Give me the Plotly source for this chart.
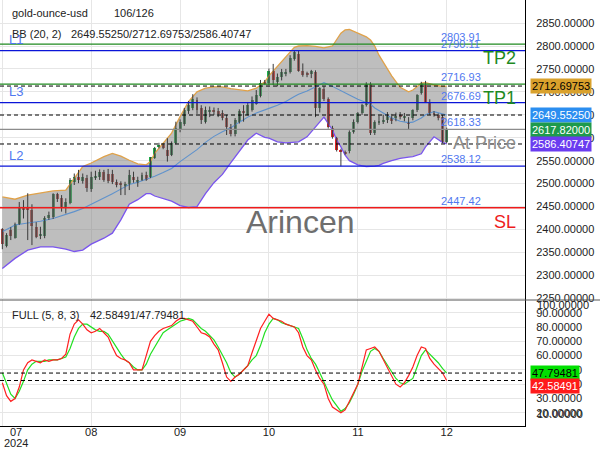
import numpy as np
import plotly.graph_objects as go
from plotly.subplots import make_subplots

FONT = "Liberation Sans, Arial, sans-serif"

# ---------------- data ----------------
symbol = "gold-ounce-usd"
bar_counter = "106/126"
month_tick_bars = [0, 21, 42, 63, 84, 105]
month_labels = ["07", "08", "09", "10", "11", "12"]
year_label = "2024"
price_ticks = [2250, 2300, 2350, 2400, 2450, 2500, 2550, 2600, 2650, 2700, 2750, 2800, 2850]
stoch_ticks = [20, 30, 40, 50, 60, 70, 80, 90]
stoch_edge_labels = [100, 10]

opens = [2401, 2364, 2399, 2381, 2411, 2448, 2446, 2442, 2406, 2386,
         2385, 2427, 2427, 2477, 2468, 2450, 2457, 2504, 2515, 2506,
         2513, 2488, 2513, 2515, 2526, 2522, 2521, 2504, 2499, 2495,
         2499, 2514, 2501, 2508, 2519, 2514, 2555, 2580, 2584, 2573,
         2562, 2588, 2617, 2630, 2658, 2665, 2682, 2664, 2635, 2658,
         2660, 2659, 2653, 2642, 2624, 2608, 2634, 2657, 2650, 2660,
         2674, 2691, 2722, 2719, 2746, 2722, 2733, 2739, 2744, 2772,
         2782, 2745, 2739, 2738, 2744, 2664, 2706, 2684, 2622, 2599,
         2573, 2570, 2571, 2613, 2635, 2653, 2671, 2717, 2611, 2633,
         2636, 2639, 2643, 2645, 2650, 2642, 2635, 2642, 2660, 2697,
         2715, 2679, 2653, 2650, 2646, 2591]
highs = [2403, 2392, 2405, 2415, 2460, 2464, 2479, 2455, 2416, 2406,
         2429, 2439, 2479, 2480, 2475, 2468, 2512, 2522, 2530, 2522,
         2519, 2526, 2528, 2531, 2530, 2532, 2530, 2509, 2505, 2504,
         2530, 2526, 2515, 2524, 2526, 2558, 2580, 2589, 2588, 2599,
         2592, 2635, 2640, 2665, 2680, 2695, 2688, 2671, 2668, 2668,
         2666, 2665, 2660, 2650, 2630, 2643, 2662, 2671, 2678, 2690,
         2704, 2726, 2726, 2751, 2761, 2740, 2750, 2750, 2780, 2790,
         2791, 2762, 2744, 2748, 2747, 2710, 2712, 2688, 2626, 2602,
         2576, 2572, 2616, 2640, 2656, 2674, 2721, 2721, 2638, 2648,
         2650, 2656, 2652, 2655, 2656, 2654, 2645, 2662, 2695, 2722,
         2724, 2684, 2658, 2653, 2650, 2622]
lows = [2357, 2361, 2377, 2380, 2410, 2424, 2377, 2366, 2381, 2379,
        2381, 2421, 2423, 2460, 2439, 2435, 2455, 2497, 2501, 2500,
        2482, 2482, 2508, 2508, 2504, 2501, 2499, 2492, 2475, 2475,
        2486, 2502, 2493, 2506, 2506, 2512, 2554, 2577, 2575, 2548,
        2560, 2586, 2612, 2626, 2652, 2660, 2652, 2630, 2631, 2645,
        2650, 2645, 2638, 2606, 2603, 2603, 2631, 2635, 2649, 2657,
        2672, 2688, 2716, 2715, 2715, 2712, 2725, 2734, 2740, 2768,
        2744, 2733, 2732, 2730, 2645, 2655, 2680, 2620, 2598, 2570,
        2538, 2563, 2566, 2609, 2631, 2650, 2668, 2606, 2606, 2628,
        2630, 2632, 2630, 2636, 2640, 2636, 2617, 2638, 2656, 2694,
        2676, 2650, 2646, 2638, 2588, 2588]
closes = [2368, 2388, 2385, 2411, 2448, 2443, 2444, 2408, 2384, 2388,
          2424, 2431, 2477, 2466, 2450, 2459, 2508, 2515, 2508, 2514,
          2490, 2515, 2516, 2526, 2509, 2506, 2504, 2498, 2497, 2497,
          2519, 2508, 2508, 2519, 2509, 2557, 2577, 2583, 2577, 2560,
          2588, 2621, 2635, 2660, 2672, 2685, 2660, 2639, 2660, 2661,
          2658, 2652, 2642, 2623, 2608, 2639, 2659, 2654, 2671, 2682,
          2693, 2720, 2719, 2746, 2725, 2733, 2744, 2744, 2773, 2786,
          2745, 2737, 2738, 2745, 2664, 2708, 2684, 2624, 2602, 2573,
          2570, 2566, 2613, 2635, 2653, 2671, 2717, 2611, 2635, 2637,
          2638, 2647, 2637, 2647, 2645, 2647, 2632, 2660, 2693, 2719,
          2679, 2653, 2651, 2642, 2591, 2617.82]

# Bollinger bands (20, 2) at these bars
bb_x = [0, 3, 6, 9, 12, 15, 17, 19, 21, 24, 26, 28, 30, 32, 34, 35, 36, 38, 40, 42,
        44, 46, 48, 50, 52, 54, 56, 58, 60, 62, 63, 65, 67, 69, 70, 72, 74, 76, 78, 79,
        80, 81, 82, 84, 86, 87, 88, 89, 90, 92, 94, 96, 97, 99, 100, 102, 104, 105]
bb_upper = [2471, 2466, 2475, 2480, 2484, 2486, 2512, 2537, 2545, 2559, 2566, 2560, 2551, 2543,
            2541, 2548, 2566, 2588, 2610, 2646, 2679, 2700, 2708, 2711, 2711, 2707, 2704, 2702,
            2708, 2722, 2735, 2755, 2777, 2797, 2800, 2801, 2799, 2796, 2800, 2815, 2828, 2835,
            2836, 2828, 2820, 2813, 2800, 2780, 2765, 2735, 2710, 2700, 2704, 2719, 2720, 2715,
            2712, 2712.69753]
bb_mid = [2395, 2410, 2414, 2418, 2424, 2432, 2439, 2446, 2455, 2468, 2478, 2488, 2498, 2503,
          2509, 2512, 2516, 2524, 2533, 2548, 2561, 2574, 2590, 2603, 2613, 2622, 2634, 2645,
          2654, 2660, 2664, 2671, 2679, 2690, 2695, 2702, 2711, 2720, 2712, 2707, 2703, 2698,
          2693, 2684, 2677, 2673, 2665, 2659, 2654, 2643, 2636, 2633, 2634, 2643, 2650, 2657,
          2652, 2649.55250]
bb_lower = [2315, 2337, 2355, 2362, 2362, 2357, 2352, 2355, 2368, 2381, 2392, 2421, 2455, 2465,
            2478, 2478, 2473, 2468, 2462, 2452, 2448, 2450, 2478, 2502, 2520, 2546, 2570, 2595,
            2610, 2601, 2599, 2591, 2589, 2590, 2591, 2602, 2623, 2645, 2617, 2595, 2580, 2562,
            2550, 2541, 2537, 2537, 2538, 2540, 2544, 2550, 2555, 2558, 2559, 2565, 2580, 2602,
            2590, 2586.40747]

# Full stochastic (5, 8, 3)
stoch_k = [41, 32, 28, 30, 38, 50, 55, 57, 56, 55,
           57, 56, 57, 57, 58, 61, 75, 82, 85, 82,
           78, 76, 77, 79, 76, 73, 66, 60, 58, 57,
           55, 50, 50, 50, 60, 70, 74, 77, 79, 80,
           81, 84, 86, 86, 85, 84, 80, 76, 75, 73,
           68, 64, 55, 45, 42, 45, 47, 50, 53, 62,
           70, 79, 84, 89, 86, 85, 84, 82, 81, 80,
           76, 66, 60, 57, 50, 44, 40, 30, 24, 22,
           20, 22, 28, 34, 40, 52, 64, 65, 66, 63,
           57, 52, 45, 40, 38, 41, 46, 52, 60, 66,
           65, 58, 54, 51, 48, 42.58491]
stoch_d = [48, 40, 33, 30, 35, 42, 50, 54, 56, 56,
           56, 57, 57, 57, 58, 59, 65, 73, 79, 82,
           82, 80, 78, 77, 77, 75, 70, 65, 61, 57,
           55, 52, 50, 50, 54, 61, 66, 72, 76, 78,
           80, 82, 84, 85, 86, 85, 82, 79, 77, 74,
           71, 66, 61, 55, 48, 45, 47, 50, 53, 57,
           60, 67, 76, 82, 86, 85, 83, 82, 81, 80,
           79, 72, 64, 58, 54, 48, 41, 35, 29, 25,
           21, 23, 27, 33, 40, 49, 56, 63, 65, 63,
           58, 53, 48, 44, 41, 40, 42, 44, 52, 60,
           64, 61, 58, 55, 51, 47.79481]

# Trade levels
level_values = [2803.91, 2790.11, 2716.93, 2676.69, 2618.33, 2538.12, 2447.42]
level_names = ["TP2", "L1", "TP1", "L3", "At Price", "L2", "SL"]
watermark = "Arincen"

# ---------------- styling ----------------
GRID = "#e6e6e6"
TXT = "#222222"
LVL_TXT = "#5078f0"
kind_color = {"TP": "#1f8a1f", "L": "#0a14d8", "At": "#8c8c8c", "SL": "#ee1c1c"}

n = len(closes)
xs = list(range(n))

fig = make_subplots(rows=2, cols=1, shared_xaxes=True, vertical_spacing=0,
                    row_heights=[300, 126])

# Bollinger fill + lines
fig.add_trace(go.Scatter(x=bb_x, y=bb_upper, mode="lines",
                         line=dict(color="#e0a24a", width=1.3), hoverinfo="skip"), row=1, col=1)
fig.add_trace(go.Scatter(x=bb_x, y=bb_lower, mode="lines", fill="tonexty",
                         fillcolor="rgba(125,125,125,0.5)",
                         line=dict(color="#7a55ee", width=1.3), hoverinfo="skip"), row=1, col=1)
fig.add_trace(go.Scatter(x=bb_x, y=bb_mid, mode="lines",
                         line=dict(color="#5f92cc", width=1.1), hoverinfo="skip"), row=1, col=1)

# candles
up_i = np.interp(xs, bb_x, bb_upper)
lo_i = np.interp(xs, bb_x, bb_lower)
body_colors = []
for i in xs:
    outside = highs[i] > up_i[i] + 3 or lows[i] < lo_i[i] - 3
    if closes[i] >= opens[i]:
        body_colors.append("#1fae4a" if outside else "#3f8c58")
    else:
        body_colors.append("#e82222" if outside else "#b54a46")

wx, wy = [], []
for i in xs:
    wx += [i, i, None]
    wy += [lows[i], highs[i], None]
fig.add_trace(go.Scatter(x=wx, y=wy, mode="lines", line=dict(color="#3a3a3a", width=1),
                         hoverinfo="skip"), row=1, col=1)
bases = [min(o, c) for o, c in zip(opens, closes)]
heights = [max(abs(c - o), 2.2) for o, c in zip(opens, closes)]
fig.add_trace(go.Bar(x=xs, y=heights, base=bases, width=0.7,
                     marker=dict(color=body_colors, line=dict(width=0))), row=1, col=1)

# stochastic
fig.add_trace(go.Scatter(x=xs, y=stoch_d, mode="lines", line=dict(color="#22e022", width=1.2)),
              row=2, col=1)
fig.add_trace(go.Scatter(x=xs, y=stoch_k, mode="lines", line=dict(color="#ff2020", width=1.2)),
              row=2, col=1)

# ---------------- axes ----------------
y_main = [2246.3, 2900.3]
y_stoch = [10.77, 98.88]
x_range = [-0.55, n + 17.5]

fig.update_layout(width=600, height=450, margin=dict(l=0, r=75, t=0, b=24),
                  paper_bgcolor="white", plot_bgcolor="white", showlegend=False,
                  font=dict(family=FONT, size=11, color=TXT), bargap=0)
fig.update_xaxes(range=x_range, tickvals=month_tick_bars,
                 ticktext=[""] + month_labels[1:], showgrid=True, gridcolor=GRID,
                 gridwidth=1, zeroline=False, ticks="", ticklabelstandoff=-4,
                 tickfont=dict(size=11, color=TXT))
fig.update_xaxes(showline=True, linecolor="black", linewidth=1, row=2, col=1)
fig.update_yaxes(side="right", showgrid=True, gridcolor=GRID, zeroline=False,
                 showline=True, linecolor="black", linewidth=1, ticks="",
                 tickformat=".5f", ticklabelstandoff=8, tickfont=dict(size=11, color=TXT))
fig.update_yaxes(range=y_main, tickvals=price_ticks, row=1, col=1)
fig.update_yaxes(range=y_stoch, tickvals=stoch_ticks, row=2, col=1)

shapes = []
# trade level lines
for v, name in zip(level_values, level_names):
    kind = "TP" if name.startswith("TP") else ("At" if name.startswith("At") else ("SL" if name == "SL" else "L"))
    shapes.append(dict(type="line", xref="x domain", yref="y", x0=0, x1=1, y0=v, y1=v,
                       line=dict(color=kind_color[kind], width=1.3)))
# band value dashed lines
for v in (bb_upper[-1], bb_mid[-1], bb_lower[-1]):
    shapes.append(dict(type="line", xref="x domain", yref="y", x0=0, x1=1, y0=v, y1=v,
                       line=dict(color="black", width=1, dash="4px,3px")))
for v in (stoch_d[-1], stoch_k[-1]):
    shapes.append(dict(type="line", xref="x2 domain", yref="y2", x0=0, x1=1, y0=v, y1=v,
                       line=dict(color="black", width=1, dash="4px,3px")))
# panel divider
split = 126 / 426
shapes.append(dict(type="line", xref="paper", yref="paper", x0=0, x1=600 / 525, y0=split,
                   y1=split, line=dict(color="#555555", width=1)))
fig.update_layout(shapes=shapes)

W, H = 525.0, 426.0


def px(xp):
    return xp / W


def py(yp):
    return 1 - yp / H


ann = []
# header texts
ann.append(dict(xref="paper", yref="paper", x=px(10), y=py(13), xanchor="left", yanchor="middle",
                text=symbol, showarrow=False, font=dict(size=11, color=TXT)))
ann.append(dict(xref="paper", yref="paper", x=px(112), y=py(13), xanchor="left", yanchor="middle",
                text=bar_counter, showarrow=False, font=dict(size=11, color=TXT)))
ann.append(dict(xref="paper", yref="paper", x=px(10), y=py(34), xanchor="left", yanchor="middle",
                text="BB (20, 2)", showarrow=False, font=dict(size=11, color=TXT)))
ann.append(dict(xref="paper", yref="paper", x=px(69), y=py(34), xanchor="left", yanchor="middle",
                text=f"{bb_mid[-1]:.5f}/{bb_upper[-1]:.5f}/{bb_lower[-1]:.5f}", showarrow=False,
                font=dict(size=11, color=TXT)))
ann.append(dict(xref="paper", yref="paper", x=px(10), y=py(315), xanchor="left", yanchor="middle",
                text="FULL (5, 8, 3)", showarrow=False, font=dict(size=11, color=TXT)))
ann.append(dict(xref="paper", yref="paper", x=px(88), y=py(315), xanchor="left", yanchor="middle",
                text=f"{stoch_k[-1]:.5f}/{stoch_d[-1]:.5f}", showarrow=False,
                font=dict(size=11, color=TXT)))
# first month label shifted as in the original
ann.append(dict(xref="paper", yref="paper", x=px(16), y=py(432), xanchor="center", yanchor="middle",
                text=month_labels[0], showarrow=False, font=dict(size=11, color=TXT)))
ann.append(dict(xref="paper", yref="paper", x=px(16), y=py(443), xanchor="center", yanchor="middle",
                text=year_label, showarrow=False, font=dict(size=11, color=TXT)))

# level annotations
for v, name in zip(level_values, level_names):
    ann.append(dict(xref="paper", yref="y", x=px(439), y=v, xanchor="left", yanchor="middle",
                    yshift=7, text=f"{v:.2f}", showarrow=False, font=dict(size=11, color=LVL_TXT)))
    if name.startswith("L"):
        ann.append(dict(xref="paper", yref="y", x=px(7), y=v, xanchor="left", yanchor="middle",
                        yshift=11, text=name, showarrow=False, font=dict(size=13, color=LVL_TXT)))
    else:
        kind = "TP" if name.startswith("TP") else ("At" if name.startswith("At") else "SL")
        ann.append(dict(xref="paper", yref="y", x=px(518), y=v, xanchor="right", yanchor="middle",
                        yshift=-14, text=name, showarrow=False,
                        font=dict(size=18, color=kind_color[kind])))

# watermark
ann.append(dict(xref="paper", yref="paper", x=px(300), y=py(222), xanchor="center",
                yanchor="middle", text=watermark, showarrow=False,
                font=dict(size=32, color="#6e6e6e")))

# right-side value badges


def badge(yref, val, bg, fg, yshift=0):
    ann.append(dict(xref="paper", yref=yref, x=1, y=val, xanchor="left", yanchor="middle",
                    xshift=5, yshift=yshift, text=f"{val:.5f}", showarrow=False, bgcolor=bg,
                    borderpad=1, font=dict(size=11, color=fg)))


badge("y", bb_upper[-1], "#d9a12c", "black")
badge("y", bb_mid[-1], "#2b8ef0", "white")
badge("y", closes[-1], "#1e9a4c", "white")
badge("y", bb_lower[-1], "#6a3cf0", "white")
badge("y2", stoch_d[-1], "#00e000", "black")
badge("y2", stoch_k[-1], "#ff1a1a", "white", yshift=-5)

# edge labels of the stochastic axis
for val, ypx in zip(stoch_edge_labels, [305, 414]):
    ann.append(dict(xref="paper", yref="paper", x=1, y=py(ypx), xanchor="left", yanchor="middle",
                    xshift=10, text=f"{val:.5f}", showarrow=False, font=dict(size=11, color=TXT)))

fig.update_layout(annotations=ann)
fig.write_html("out.html")
